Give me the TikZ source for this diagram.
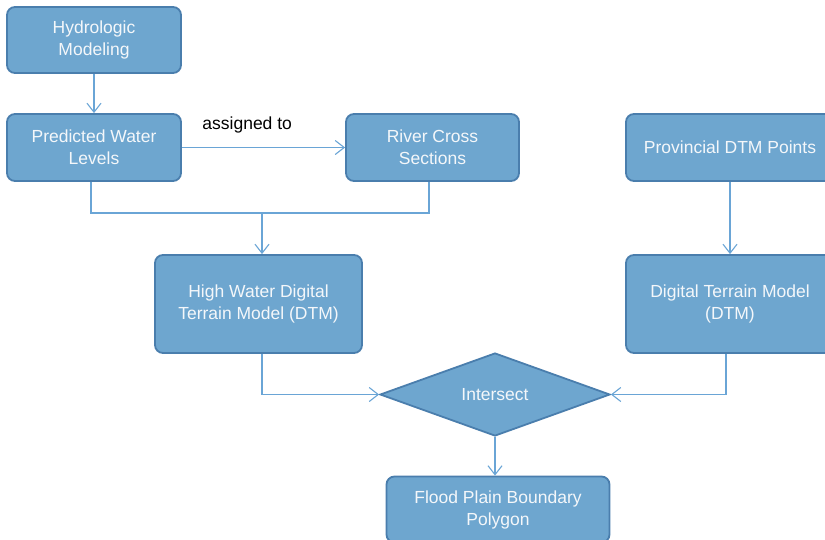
\documentclass[tikz,border=0pt]{standalone}
\usepackage{fontspec}
\setmainfont{Liberation Sans}
\usetikzlibrary{shapes.geometric,arrows.meta}
\definecolor{boxfill}{HTML}{6EA6CF}
\definecolor{boxline}{HTML}{4A7EAD}
\definecolor{conn}{HTML}{6AA5D6}
\definecolor{txt}{HTML}{F4F7FA}
\tikzset{
  box/.style={rectangle, rounded corners=8pt, fill=boxfill, draw=boxline, line width=1.8pt,
    text=txt, align=center, inner sep=0pt, font=\fontsize{17.5}{22}\selectfont},
  dia/.style={diamond, fill=boxfill, draw=boxline, line width=1.8pt, text=txt, inner sep=0pt,
    minimum width=230pt, minimum height=83pt, aspect=2.77, font=\fontsize{17.5}{22}\selectfont},
  conline/.style={draw=conn, line width=1.1pt},
  arr/.style={conline, -{Straight Barb[length=9pt,width=14pt,line width=1.1pt]}}
}
\begin{document}
\begin{tikzpicture}[x=1pt,y=-1pt]
\clip (0,0) rectangle (825,539);
\fill[white] (0,0) rectangle (825,539);
\node[box, minimum width=174pt, minimum height=66pt] (hm) at (94,40) {Hydrologic\\Modeling};
\node[box, minimum width=174pt, minimum height=67pt] (pwl) at (94,147.5) {Predicted Water\\Levels};
\node[box, minimum width=173pt, minimum height=67pt] (rcs) at (432.5,147.5) {River Cross\\Sections};
\node[box, minimum width=208pt, minimum height=67pt] (pdp) at (730,147.5) {Provincial DTM Points};
\node[box, minimum width=207pt, minimum height=98pt] (hw) at (258.5,304) {High Water Digital\\Terrain Model (DTM)};
\node[box, minimum width=208pt, minimum height=98pt] (dtm) at (730,304) {Digital Terrain Model\\(DTM)};
\node[dia] (inter) at (495,394.5) {Intersect};
\node[box, minimum width=223pt, minimum height=66pt] (fpb) at (498,509.5) {Flood Plain Boundary\\Polygon};
\coordinate (j) at (262,213);
\draw[arr] (hm) -- (pwl);
\draw[arr] (pwl) -- node[pos=0.4, yshift=23pt, text=black, font=\fontsize{17.5}{22}\selectfont] {assigned to} (rcs);
\draw[conline] ([xshift=-3pt]pwl.south) |- (j) -| ([xshift=-3.5pt]rcs.south);
\draw[arr] (j) -- (j |- hw.north);
\draw[arr] (pdp) -- (dtm);
\draw[arr] (j |- hw.south) |- (inter.west);
\draw[arr] ([xshift=-4pt]dtm.south) |- (inter.east);
\draw[arr] (inter.south) -- (inter.south |- fpb.north);
\end{tikzpicture}
\end{document}
